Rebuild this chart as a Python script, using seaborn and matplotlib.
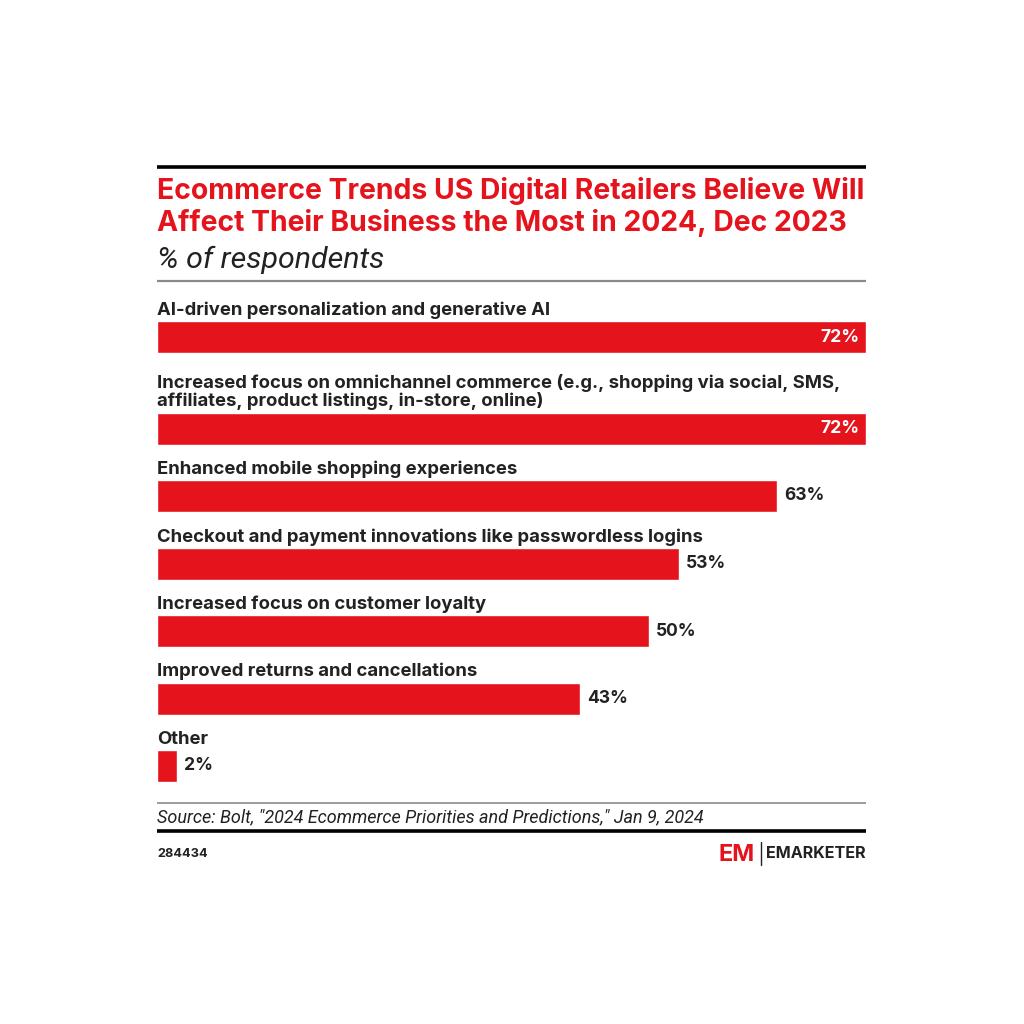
import pandas as pd
import seaborn as sns
import matplotlib.pyplot as plt

# -----------------------------------------------------------------------------
# Ecommerce trends US digital retailers expect to matter most in 2024
# (eMarketer style horizontal bar chart)
# -----------------------------------------------------------------------------

categories = [
    "AI-driven personalization and generative AI",
    "Increased focus on omnichannel commerce (e.g., shopping via social, SMS,\n"
    "affiliates, product listings, in-store, online)",
    "Enhanced mobile shopping experiences",
    "Checkout and payment innovations like passwordless logins",
    "Increased focus on customer loyalty",
    "Improved returns and cancellations",
    "Other",
]
values = [72, 72, 63, 53, 50, 43, 2]
value_labels = [f"{v}%" for v in values]

title = ("Ecommerce Trends US Digital Retailers Believe Will\n"
         "Affect Their Business the Most in 2024, Dec 2023")
subtitle = "% of respondents"
source = 'Source: Bolt, "2024 Ecommerce Priorities and Predictions," Jan 9, 2024'
chart_id = "284434"

W = H = 1024
RED = "#e5131c"
TEXT = "#222222"
BOLD_FONT = ["Inter", "DejaVu Sans"]
ITALIC_FONT = ["Roboto", "DejaVu Sans"]


def fx(px):
    return px / W


def fy(py):
    return 1 - py / H


def hline(fig, y, color, lw, x0=157, x1=866):
    fig.add_artist(plt.Line2D([fx(x0), fx(x1)], [fy(y), fy(y)],
                              color=color, lw=lw, solid_capstyle="butt"))


def main():
    sns.set_style("white")
    plt.rcParams["font.family"] = BOLD_FONT

    # bar centres in page pixels: a fixed step, plus one line for wrapped labels
    step, extra_line = 67.5, 24
    centres = [337.0]
    for lab in categories[1:]:
        centres.append(centres[-1] + step + extra_line * lab.count("\n"))

    df = pd.DataFrame({"label": categories, "value": values, "pos": centres})

    fig = plt.figure(figsize=(W / 100, H / 100), dpi=100)
    fig.patch.set_facecolor("white")

    ax_top, ax_bot = 295, 795
    ax = fig.add_axes([fx(157), fy(ax_bot), fx(866) - fx(157),
                       (ax_bot - ax_top) / H])
    bar_h = 32
    sns.barplot(data=df, x="value", y="pos", orient="h", native_scale=True,
                width=bar_h / step, color=RED, saturation=1, errorbar=None,
                ax=ax)
    ax.set_xlim(0, max(values))
    ax.set_ylim(ax_bot, ax_top)
    ax.axis("off")

    for lab, v, vl, c in zip(categories, values, value_labels, centres):
        ax.text(0, c - bar_h / 2 - 6, lab, ha="left", va="baseline",
                fontsize=13.3, fontweight="bold", color=TEXT,
                linespacing=1.02)
        if v >= 70:
            ax.annotate(vl, (v, c), xytext=(-5, 0), textcoords="offset points",
                        ha="right", va="center", fontsize=12.6,
                        fontweight="bold", color="white")
        else:
            ax.annotate(vl, (v, c), xytext=(5, 0), textcoords="offset points",
                        ha="left", va="center", fontsize=12.6,
                        fontweight="bold", color=TEXT)

    # header
    hline(fig, 167, "black", 2.6)
    fig.text(fx(157), fy(231), title, ha="left", va="baseline",
             fontsize=20.4, fontweight="bold", color=RED, linespacing=1.18)
    fig.text(fx(157), fy(268), subtitle, ha="left", va="baseline",
             fontsize=21.9, fontstyle="italic", color=TEXT, family=ITALIC_FONT)
    hline(fig, 281, "#8a8a8a", 1.6)

    # footer
    hline(fig, 803, "#8a8a8a", 1.2)
    fig.text(fx(157), fy(822), source, ha="left", va="baseline",
             fontsize=13, fontstyle="italic", color=TEXT, family=ITALIC_FONT)
    hline(fig, 831, "black", 2.6)
    fig.text(fx(157), fy(857), chart_id, ha="left", va="baseline",
             fontsize=9.2, fontweight="bold", color=TEXT)
    fig.text(fx(866), fy(858), "EMARKETER", ha="right", va="baseline",
             fontsize=11.6, fontweight="bold", color=TEXT)
    fig.add_artist(plt.Line2D([fx(761), fx(761)], [fy(842), fy(865)],
                              color=TEXT, lw=1))
    fig.text(fx(718), fy(861), "EM", ha="left", va="baseline",
             fontsize=17, fontweight="bold", color=RED)

    fig.savefig("out.png", dpi=100, facecolor="white")


if __name__ == "__main__":
    main()
